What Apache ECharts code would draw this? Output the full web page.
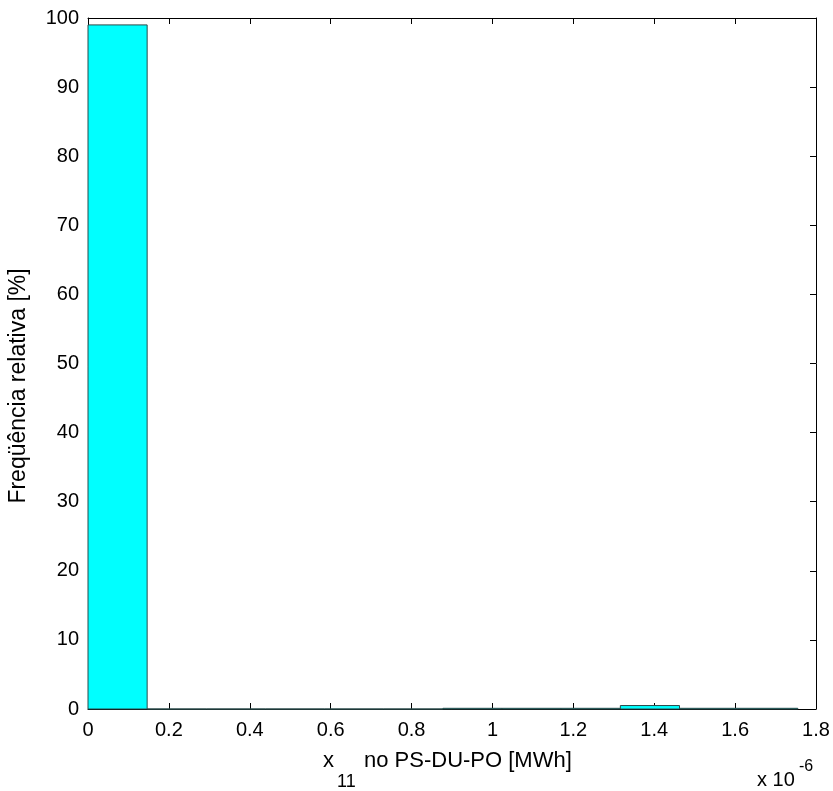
<!DOCTYPE html>
<html><head><meta charset="utf-8">
<script src="https://cdn.jsdelivr.net/npm/echarts@6/dist/echarts.min.js"></script>
<style>html,body{margin:0;padding:0;background:#fff}#c{width:833px;height:791px}</style>
</head><body><div id="c"></div>
<script>
// bin edges in units of 1e-6 MWh
const binStart = [0, 0.14625, 0.2925, 0.43875, 0.585, 0.73125, 0.8775, 1.02375, 1.17, 1.31625, 1.4625, 1.60875];
const binEnd   = [0.14625, 0.2925, 0.43875, 0.585, 0.73125, 0.8775, 1.02375, 1.17, 1.31625, 1.4625, 1.60875, 1.755];
const freq     = [99.0, 0, 0, 0, 0, 0, 0.1, 0.1, 0.1, 0.5, 0.1, 0.1];
const xTicks = [0, 0.2, 0.4, 0.6, 0.8, 1, 1.2, 1.4, 1.6, 1.8];
const yTicks = [0, 10, 20, 30, 40, 50, 60, 70, 80, 90, 100];

const font = 'Liberation Sans, Arial, sans-serif';
const chart = echarts.init(document.getElementById('c'));
const data = freq.map((f, i) => [binStart[i], binEnd[i], f]);
function ax(extra) {
  return Object.assign({
    type: 'value',
    axisLine: {show: true, onZero: false, lineStyle: {color: '#000', width: 1}},
    axisTick: {show: true, inside: true, length: 6, lineStyle: {color: '#000'}},
    splitLine: {show: false}
  }, extra);
}
chart.setOption({
  animation: false,
  grid: {left: 88, right: 17, top: 18, bottom: 82, containLabel: false},
  xAxis: [
    ax({min: xTicks[0], max: xTicks[xTicks.length-1], interval: 0.2, position: 'bottom',
      axisLabel: {color: '#000', fontSize: 20, fontFamily: font, margin: 11}}),
    ax({min: xTicks[0], max: xTicks[xTicks.length-1], interval: 0.2, position: 'top',
      axisLabel: {show: false}})
  ],
  yAxis: [
    ax({min: yTicks[0], max: yTicks[yTicks.length-1], interval: 10, position: 'left',
      axisLabel: {color: '#000', fontSize: 20, fontFamily: font, margin: 9}}),
    ax({min: yTicks[0], max: yTicks[yTicks.length-1], interval: 10, position: 'right',
      axisLabel: {show: false}})
  ],
  series: [{
    type: 'custom',
    xAxisIndex: 0, yAxisIndex: 0,
    data: data,
    encode: {x: [0, 1], y: 2},
    renderItem: function (params, api) {
      const p0 = api.coord([api.value(0), api.value(2)]);
      const p1 = api.coord([api.value(1), 0]);
      return {
        type: 'rect',
        shape: {x: p0[0], y: p0[1], width: p1[0] - p0[0], height: p1[1] - p0[1]},
        style: {fill: '#00FFFF', stroke: '#2a4a4a', lineWidth: 1}
      };
    }
  }],
  graphic: [
    {type: 'text', x: 323, y: 772, style: {text: 'x', fill: '#000', font: '22px ' + font, verticalAlign: 'bottom'}},
    {type: 'text', x: 337, y: 791, style: {text: '11', fill: '#000', font: '18px ' + font, verticalAlign: 'bottom'}},
    {type: 'text', x: 757, y: 790, style: {text: 'x 10', fill: '#000', font: '20px ' + font, verticalAlign: 'bottom'}},
    {type: 'text', x: 364, y: 772, style: {text: 'no PS-DU-PO [MWh]', fill: '#000', font: '22px ' + font, verticalAlign: 'bottom'}},
    {type: 'text', x: 799, y: 775, style: {text: '-6', fill: '#000', font: '16px ' + font, verticalAlign: 'bottom'}},
    {type: 'text', x: 19, y: 386, rotation: Math.PI / 2, style: {
      text: 'Freqüência relativa [%]', fill: '#000', font: '23px ' + font, align: 'center', verticalAlign: 'middle'}}
  ]
});
</script></body></html>
